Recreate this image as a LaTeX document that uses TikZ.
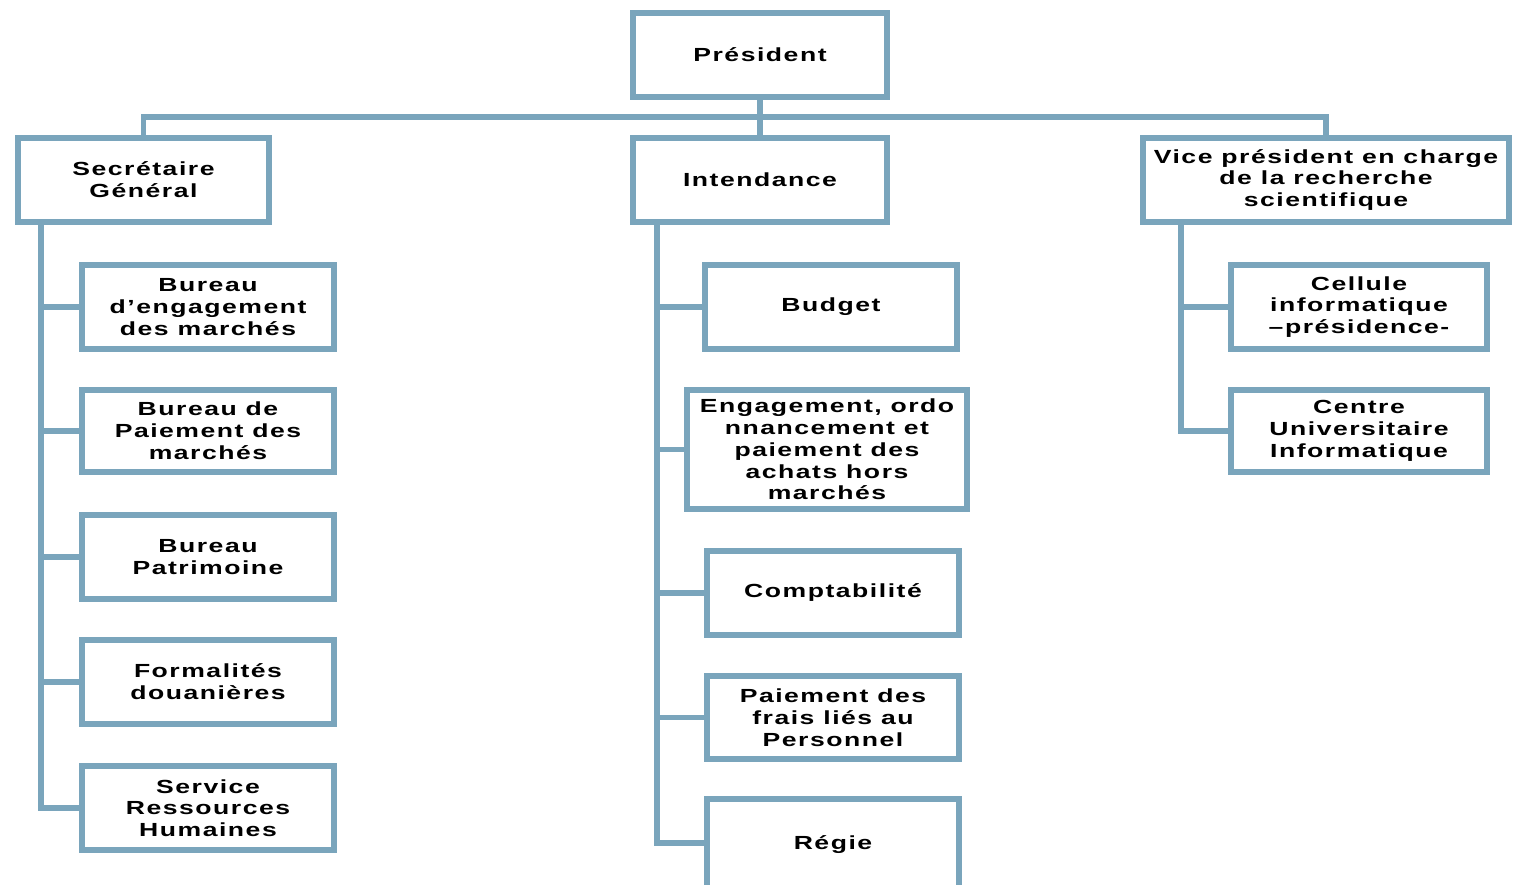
\documentclass[tikz,border=0pt]{standalone}
\usepackage{fontspec}
\newfontfamily\orgfont{Liberation Sans Bold}[FakeStretch=1.4,LetterSpace=8]
\usepackage{tikz}
\definecolor{orgblue}{RGB}{122,165,188}

\begin{document}
\begin{tikzpicture}[x=0.02cm,y=-0.02cm,
  box/.style={draw=orgblue,line width=3.5pt,fill=white,align=center,inner sep=1pt,
    minimum width=5.04cm,minimum height=1.68cm,
    font=\orgfont\fontsize{10.8}{12.4}\selectfont},
  link/.style={draw=orgblue,line width=3.2pt}]
  \clip (0,0) rectangle (1514,885);
  \node[box,minimum width=5.08cm] (pres) at (760,55) {Président};
  \node[box,minimum width=5.02cm] (sg) at (143.5,180) {Secrétaire\\Général};
  \node[box,minimum width=5.08cm] (int) at (760,180) {Intendance};
  \node[box,minimum width=7.32cm] (vp) at (1326,180) {Vice président en charge\\de la recherche\\scientifique};
  \node[box] (bengag) at (208,307) {Bureau\\d’engagement\\des marchés};
  \node[box,minimum height=1.64cm] (bpaie) at (208,431) {Bureau de\\Paiement des\\marchés};
  \node[box] (bpatri) at (208,557) {Bureau\\Patrimoine};
  \node[box] (douane) at (208,682) {Formalités\\douanières};
  \node[box] (srh) at (208,808) {Service\\Ressources\\Humaines};
  \node[box] (budget) at (831,307) {Budget};
  \node[box,minimum width=5.6cm,minimum height=2.38cm] (engag) at (827,449.5) {Engagement, ordo\\nnancement et\\paiement des\\achats hors\\marchés};
  \node[box] (compta) at (833,593) {Comptabilité};
  \node[box,minimum height=1.66cm] (frais) at (833,717.5) {Paiement des\\frais liés au\\Personnel};
  \node[box,minimum height=1.84cm] (regie) at (833,845) {Régie};
  \node[box,minimum width=5.12cm] (cellule) at (1359,307) {Cellule\\informatique\\–présidence-};
  \node[box,minimum width=5.12cm,minimum height=1.64cm] (cui) at (1359,431) {Centre\\Universitaire\\Informatique};
  \coordinate (bus) at (760,117);
  \draw[link] (pres.south) -- (int.north);
  \draw[link] (sg.north) |- (bus) -| (vp.north);
  \foreach \n in {bengag,bpaie,bpatri,douane,srh}
    \draw[link] ([xshift=0.52cm]sg.south west) |- (\n.west);
  \foreach \n in {budget,engag,compta,frais}
    \draw[link] ([xshift=0.54cm]int.south west) |- (\n.west);
  \draw[link] ([xshift=0.54cm]int.south west) |- ([yshift=0.04cm]regie.west);
  \foreach \n in {cellule,cui}
    \draw[link] ([xshift=0.82cm]vp.south west) |- (\n.west);
\end{tikzpicture}
\end{document}
